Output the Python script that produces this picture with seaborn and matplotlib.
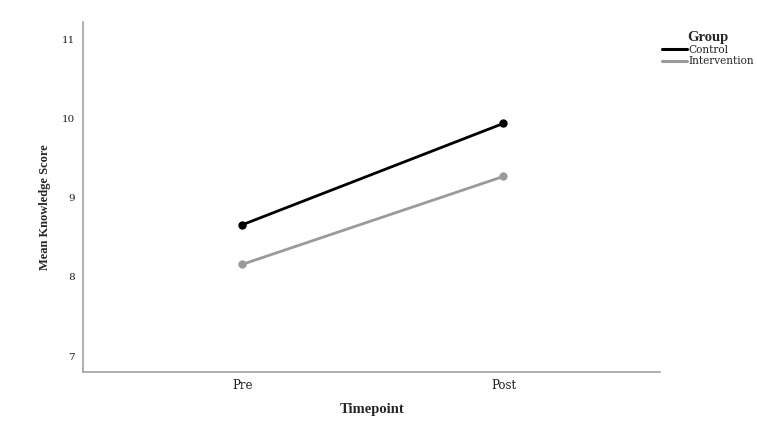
import matplotlib
matplotlib.use("Agg")
import matplotlib.pyplot as plt
import seaborn as sns
import pandas as pd
from matplotlib.lines import Line2D

timepoints = ["Pre", "Post"]
control_means = [8.66, 9.94]
intervention_means = [8.16, 9.27]
groups = ["Control", "Intervention"]
y_ticks = [7, 8, 9, 10, 11]

df = pd.DataFrame({
    "Timepoint": timepoints * 2,
    "Score": control_means + intervention_means,
    "Group": [groups[0]] * 2 + [groups[1]] * 2,
})

sns.set_style("white")
fig = plt.figure(figsize=(7.57, 4.32), dpi=100)
ax = fig.add_axes([0.110, 0.139, 0.762, 0.810])

sns.pointplot(data=df, x="Timepoint", y="Score", hue="Group", order=timepoints,
              hue_order=groups, palette={"Control": "#000000", "Intervention": "#9a9a9a"},
              markers="o", markersize=4.5, linewidth=2.0, errorbar=None, ax=ax, legend=False)

ax.set_xlim(-0.61, 1.60)
ax.set_ylim(6.8, 11.22)
ax.set_yticks(y_ticks)
ax.set_yticklabels([str(v) for v in y_ticks], fontfamily="DejaVu Serif", fontsize=7.5)
ax.set_xticks([0, 1])
ax.set_xticklabels(timepoints, fontfamily="DejaVu Serif", fontsize=8.5)
ax.tick_params(axis="y", length=0, pad=6, colors="#222222")
ax.tick_params(axis="x", length=0, pad=5, colors="#222222")

for s in ["top", "right"]:
    ax.spines[s].set_visible(False)
for s in ["left", "bottom"]:
    ax.spines[s].set_color("#a0a0a0")
    ax.spines[s].set_linewidth(1.2)

ax.set_xlabel("Timepoint", fontfamily="Liberation Serif", fontweight="bold", fontsize=10.5, labelpad=8)
ax.set_ylabel("Mean Knowledge Score", fontfamily="Liberation Serif", fontweight="bold",
              fontsize=9, labelpad=12)
ax.yaxis.set_label_coords(-0.056, 0.47)

handles = [Line2D([], [], color="#000000", lw=2.2), Line2D([], [], color="#9a9a9a", lw=2.2)]
leg = ax.legend(handles, groups, title="Group", loc="upper left", bbox_to_anchor=(1.003, 0.975),
                frameon=False, prop={"family": "DejaVu Serif", "size": 7.6},
                handlelength=2.4, handletextpad=0.15, labelspacing=0.12, borderaxespad=0,
                borderpad=0)
leg.get_title().set_fontfamily("Liberation Serif")
leg.get_title().set_fontweight("bold")
leg.get_title().set_fontsize(10.5)

fig.savefig("out.png", dpi=100)
